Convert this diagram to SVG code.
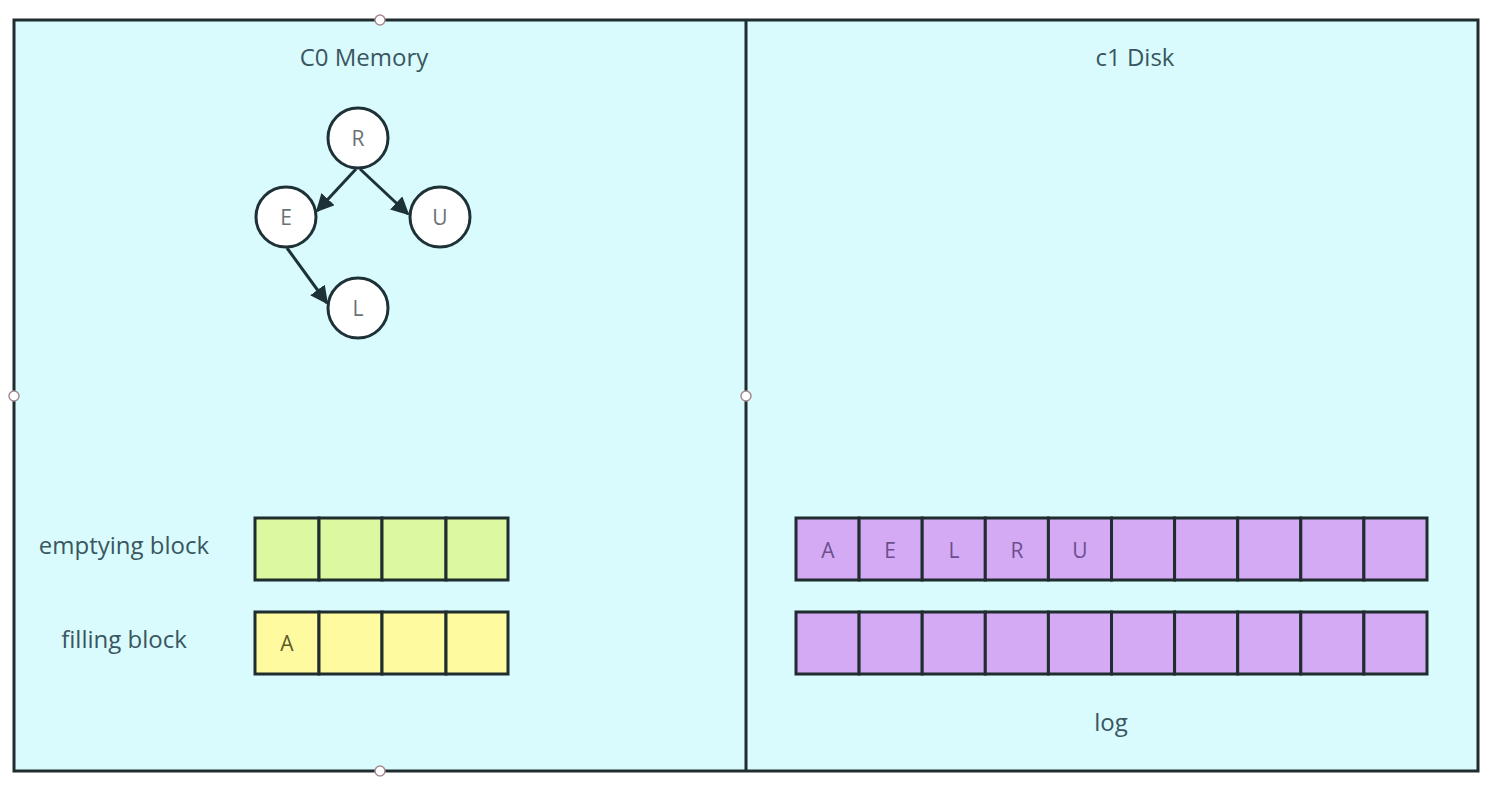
<svg xmlns="http://www.w3.org/2000/svg" width="1496" height="790" viewBox="0 0 1496 790">
<style>
text{font-family:"Open Sans","Noto Sans",sans-serif;fill:#3a5660}
.lbl{font-size:24px}
.cell{stroke:#1f2d2e;stroke-width:3}
.g{fill:#dcf8a0}
.y{fill:#fdfa9f}
.p{fill:#d4aaf5}
.node{fill:#fff;stroke:#1d3136;stroke-width:3}
.nt{font-size:21px;fill:#6a7374;text-anchor:middle}
.pt{font-size:21px;fill:#6c4f8c;text-anchor:middle}
.edge{stroke:#1d3136;stroke-width:3;fill:none;marker-end:url(#ah)}
.handle{fill:#fff;stroke:#a88a90;stroke-width:1.5}
</style>
<defs>
<marker id="ah" viewBox="0 0 10 10" refX="9" refY="5" markerWidth="6" markerHeight="6" orient="auto" markerUnits="strokeWidth">
<path d="M0,0 L10,5 L0,10 z" fill="#1d3136"/>
</marker>
</defs>
<rect width="1496" height="790" fill="#fff"/>
<g id="panels">
<rect x="14" y="20" width="1464" height="751" fill="#d9fbfd" stroke="#1f2d2e" stroke-width="3"/>
<line x1="746" y1="20" x2="746" y2="771" stroke="#1f2d2e" stroke-width="3"/>
<text class="lbl" x="364" y="66" text-anchor="middle">C0 Memory</text>
<text class="lbl" x="1135" y="66" text-anchor="middle">c1 Disk</text>
</g>
<g id="connectors">
<line class="edge" x1="356" y1="169" x2="317" y2="211"/>
<line class="edge" x1="360" y1="169" x2="408" y2="214"/>
<line class="edge" x1="287" y1="248" x2="327" y2="303"/>
</g>
<g id="node-R"><circle class="node" cx="358" cy="138" r="30"/><text class="nt" x="358" y="146">R</text></g>
<g id="node-E"><circle class="node" cx="286" cy="217" r="30"/><text class="nt" x="286" y="225">E</text></g>
<g id="node-U"><circle class="node" cx="440" cy="217" r="30"/><text class="nt" x="440" y="225">U</text></g>
<g id="node-L"><circle class="node" cx="358" cy="308" r="30"/><text class="nt" x="358" y="316">L</text></g>
<g id="emptying-block">
<text class="lbl" x="124" y="554" text-anchor="middle">emptying block</text>
<rect class="cell g" x="255" y="518" width="64" height="62"/>
<rect class="cell g" x="319" y="518" width="63" height="62"/>
<rect class="cell g" x="382" y="518" width="64" height="62"/>
<rect class="cell g" x="446" y="518" width="62" height="62"/>
</g>
<g id="filling-block">
<text class="lbl" x="124" y="648" text-anchor="middle">filling block</text>
<rect class="cell y" x="255" y="612" width="64" height="62"/>
<rect class="cell y" x="319" y="612" width="63" height="62"/>
<rect class="cell y" x="382" y="612" width="64" height="62"/>
<rect class="cell y" x="446" y="612" width="62" height="62"/>
<text class="nt" x="287" y="651" style="fill:#5c5a2a">A</text>
</g>
<g id="disk-row-1">
<rect class="cell p" x="796" y="518" width="63.1" height="62"/>
<rect class="cell p" x="859.1" y="518" width="63.1" height="62"/>
<rect class="cell p" x="922.2" y="518" width="63.1" height="62"/>
<rect class="cell p" x="985.3" y="518" width="63.1" height="62"/>
<rect class="cell p" x="1048.4" y="518" width="63.1" height="62"/>
<rect class="cell p" x="1111.5" y="518" width="63.1" height="62"/>
<rect class="cell p" x="1174.6" y="518" width="63.1" height="62"/>
<rect class="cell p" x="1237.7" y="518" width="63.1" height="62"/>
<rect class="cell p" x="1300.8" y="518" width="63.1" height="62"/>
<rect class="cell p" x="1363.9" y="518" width="63.1" height="62"/>
<text class="pt" x="828" y="558">A</text>
<text class="pt" x="890" y="558">E</text>
<text class="pt" x="954" y="558">L</text>
<text class="pt" x="1017" y="558">R</text>
<text class="pt" x="1080" y="558">U</text>
</g>
<g id="disk-row-2">
<rect class="cell p" x="796" y="612" width="63.1" height="62"/>
<rect class="cell p" x="859.1" y="612" width="63.1" height="62"/>
<rect class="cell p" x="922.2" y="612" width="63.1" height="62"/>
<rect class="cell p" x="985.3" y="612" width="63.1" height="62"/>
<rect class="cell p" x="1048.4" y="612" width="63.1" height="62"/>
<rect class="cell p" x="1111.5" y="612" width="63.1" height="62"/>
<rect class="cell p" x="1174.6" y="612" width="63.1" height="62"/>
<rect class="cell p" x="1237.7" y="612" width="63.1" height="62"/>
<rect class="cell p" x="1300.8" y="612" width="63.1" height="62"/>
<rect class="cell p" x="1363.9" y="612" width="63.1" height="62"/>
<text class="lbl" x="1111" y="731" text-anchor="middle">log</text>
</g>
<g id="handles">
<circle class="handle" cx="380" cy="20" r="5"/>
<circle class="handle" cx="14" cy="396" r="5"/>
<circle class="handle" cx="746" cy="396" r="5"/>
<circle class="handle" cx="380" cy="771" r="5"/>
</g>
</svg>
